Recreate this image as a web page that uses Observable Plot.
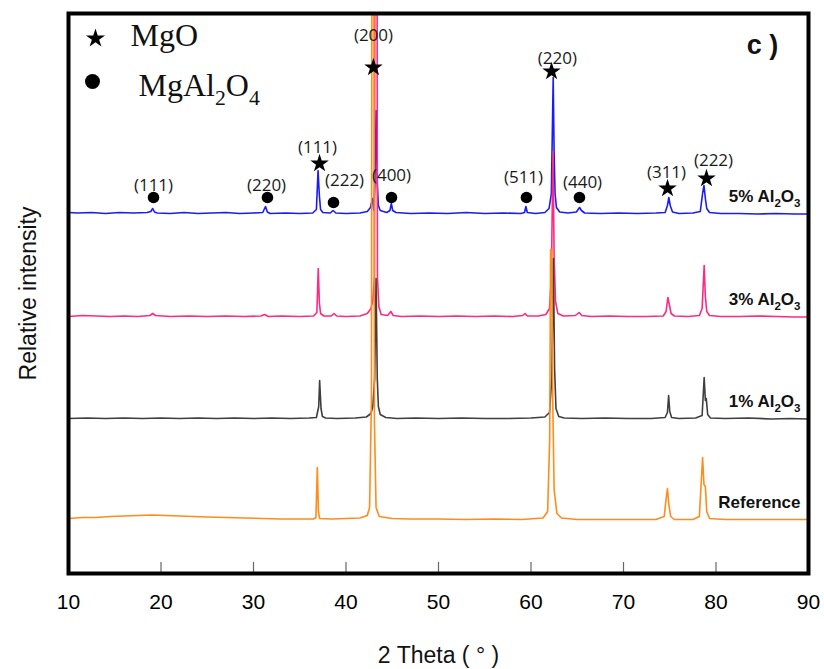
<!DOCTYPE html>
<html>
<head>
<meta charset="utf-8">
<script src="https://cdn.jsdelivr.net/npm/d3@7"></script>
<script src="https://cdn.jsdelivr.net/npm/@observablehq/plot@0.6"></script>
<style>
  html, body { margin: 0; padding: 0; background: #fff; }
</style>
</head>
<body>
<div id="chart"></div>
<script>
// ---------- data ----------
const xTicks = [10, 20, 30, 40, 50, 60, 70, 80, 90];
const innerTicks = [20, 30, 40, 50, 60, 70, 80];

const seriesNames = ["5% Al2O3", "3% Al2O3", "1% Al2O3", "Reference"];
const seriesOffsets = [360, 257, 155, 54];
const seriesColors = ["#1c1cf0", "#ff2a80", "#3f3f3f", "#ff8c1a"];

// relative intensity (a.u.) vs 2θ
const pattern5 = [[10,1],[11,0.5],[12.5,1],[14,0],[15.5,1],[17,0.5],[18.5,1],[18.9,2],[19.1,5],[19.3,1.5],[19.6,0.5],[21,0],[22.5,1],[24,0],[25.5,0.5],[27,1],[28.5,0],[30,0.5],[31,1],[31.3,7],[31.5,1.5],[31.8,0],[33.5,0.5],[35,0],[36.4,0.5],[36.8,4],[36.98,43],[37.12,18],[37.25,4],[37.5,1],[38.3,0.5],[38.6,3],[38.9,0.5],[40,0],[41.5,0.5],[42.3,2],[42.65,6],[42.85,15],[43.0,3],[43.12,30],[43.26,103],[43.38,30],[43.5,8],[43.7,3],[44.4,1],[44.75,3],[44.9,10],[45.05,3],[45.4,1],[47,0],[49,0.5],[51,0],[53,1],[55,0],[57,0.5],[58.9,0],[59.3,1],[59.45,7],[59.6,1],[60.5,0],[61.5,1],[61.95,5],[62.2,20],[62.4,136],[62.5,60],[62.6,20],[62.75,6],[63.1,1.5],[64,0.5],[64.9,1.5],[65.25,6],[65.45,3],[65.8,0.5],[67.5,0],[69.5,0.5],[71.5,0],[73.5,0.5],[74.5,1],[74.75,8],[74.9,16],[75.05,8],[75.3,1.5],[76,0],[77.5,0.5],[78.3,2],[78.55,20],[78.7,28],[78.85,15],[79.0,5],[79.3,1],[80.5,0],[82.5,0],[84.5,-0.5],[86.5,0],[88.5,-0.5],[90,-0.5]];
const pattern3 = [[10,0],[11.5,1],[13,0.5],[14.5,0],[16,0.5],[17.5,0],[18.8,1],[19.1,3],[19.4,1],[21,0],[23,0.5],[25,0],[27,0.5],[29,0],[30.8,0.5],[31.2,2],[31.6,0],[33,0.5],[35,0],[36.5,0.5],[36.85,4],[37.0,48],[37.12,14],[37.25,3],[37.6,0.5],[38.4,0.5],[38.7,3],[39,0.5],[40,0],[41.5,0.5],[42.3,3],[42.7,8],[42.9,16],[43.08,40],[43.18,900],[43.3,900],[43.4,40],[43.55,10],[43.8,2],[44.5,1],[44.85,5],[45.1,1],[46,0],[48,0.5],[50,0],[52,0.5],[54,0],[56,0.5],[58,0],[59.1,1],[59.35,3],[59.6,0.5],[60.8,0.5],[61.6,2],[62.0,8],[62.2,40],[62.38,165],[62.5,60],[62.65,15],[62.9,3],[63.5,0.5],[64.8,1],[65.2,4],[65.5,1],[66.5,0],[68.5,0.5],[70.5,0],[72.5,0],[74.3,0.5],[74.6,5],[74.8,19],[74.95,12],[75.15,3],[75.5,0.5],[77,0],[78.2,1],[78.5,8],[78.72,51],[78.85,20],[79.0,5],[79.3,1],[80.5,0],[82.5,0],[84.5,0.5],[86.5,0],[88.5,-0.5],[90,-0.5]];
const pattern1 = [[10,0],[12,0.5],[14,0],[16,0.5],[18,0],[20,0.5],[22,0],[24,0.5],[26,0],[28,0.5],[30,0],[32,0.5],[34,0],[36,0.5],[36.8,1],[37.05,12],[37.15,38],[37.3,10],[37.45,2],[37.8,0.5],[39,0],[41,0.5],[42.2,1.5],[42.7,5],[42.9,12],[43.1,40],[43.25,140],[43.38,40],[43.5,12],[43.7,4],[44.3,1],[45.5,0],[47.5,0.5],[50,0],[52.5,0.5],[55,0],[57.5,0],[60,0.5],[61.5,1.5],[62.0,6],[62.25,40],[62.42,160],[62.55,50],[62.7,10],[63.0,2],[63.6,0.5],[65.5,0],[68,0.5],[70.5,0],[73,0],[74.5,1],[74.75,6],[74.88,23],[75.0,7],[75.2,1],[76,0],[77.8,0.5],[78.5,3],[78.72,41],[78.85,18],[78.95,20],[79.1,4],[79.4,0.5],[81,0],[83.5,0.5],[86,-0.5],[88,0],[90,-0.5]];
const patternRef = [[10,1],[11.5,2],[13,2],[14.5,3],[16,3.5],[17.5,4],[19,4.5],[20.5,4],[22,3.5],[23.5,3],[25,2.5],[27,2],[29,1.5],[31,1],[33,0.5],[35,0.5],[36.5,0.5],[36.75,2],[36.9,52],[37.02,8],[37.15,1],[38.5,0.5],[40,1],[41.5,1.5],[42.3,4],[42.55,12],[42.75,120],[42.84,900],[42.97,900],[43.07,100],[43.25,12],[43.6,3],[45,1],[47,0.5],[50,0.5],[53,0],[56,0.5],[59,0],[61.3,1.5],[61.8,8],[62.02,80],[62.12,270],[62.24,270],[62.35,120],[62.5,30],[62.8,6],[63.3,1.5],[65,0],[68,0],[71,0],[73.5,0],[74.4,3],[74.6,20],[74.75,31],[74.9,15],[75.1,3],[75.5,0],[77.5,0],[78.2,3],[78.45,45],[78.55,62],[78.7,35],[78.85,33],[79.0,8],[79.3,1],[81,0],[84,0],[87,0],[90,0]];
const patterns = [pattern5, pattern3, pattern1, patternRef];

// MgO reflections (stars)
const mgoHkl = ["(111)", "(200)", "(220)", "(311)", "(222)"];
const mgoTheta = [37.14, 42.97, 62.22, 74.76, 78.97];
const mgoMarkY = [410, 506, 502, 385, 395];
const mgoLabelTheta = [36.92, 42.97, 62.86, 74.65, 79.73];
const mgoLabelY = [426, 538, 515, 401, 413];

// MgAl2O4 reflections (circles)
const spHkl = ["(111)", "(220)", "(222)", "(400)", "(511)", "(440)"];
const spTheta = [19.19, 31.51, 38.65, 44.92, 59.51, 65.24];
const spMarkY = [376, 376, 371, 376, 376, 376];
const spLabelTheta = [19.19, 31.41, 39.84, 44.92, 59.19, 65.57];
const spLabelY = [388, 388, 393, 398, 396, 391];

const legendLabels = ["MgO", "MgAl2O4"];
const panelTag = "c )";
const xLabel = "2 Theta ( \u00b0 )";
const yLabel = "Relative intensity";

// ---------- build ----------
const lineMarks = [];
// draw order: blue, pink, gray, orange (orange on top)
patterns.forEach((pat, i) => {
  const rows = pat.map(([x, v]) => ({x, y: v + seriesOffsets[i]}));
  lineMarks.push(Plot.line(rows, {x: "x", y: "y", stroke: seriesColors[i], strokeWidth: 1.6, clip: true}));
});

const seriesLabelRows = seriesNames.map((s, i) => ({s, y: seriesOffsets[i]}));
const mgoRows = mgoHkl.map((h, i) => ({h, x: mgoTheta[i], y: mgoMarkY[i], lx: mgoLabelTheta[i], ly: mgoLabelY[i]}));
const spRows = spHkl.map((h, i) => ({h, x: spTheta[i], y: spMarkY[i], lx: spLabelTheta[i], ly: spLabelY[i]}));

const labelFont = "'Open Sans', 'Noto Sans', sans-serif";
const serifFont = "'Liberation Serif', 'Times New Roman', serif";

const chart = Plot.plot({
  width: 824,
  height: 669,
  marginLeft: 68,
  marginRight: 16,
  marginTop: 13,
  marginBottom: 96,
  x: {domain: [10, 90]},
  y: {domain: [0, 560], axis: null},
  style: {fontFamily: "'Liberation Sans', Arial, sans-serif", background: "white", color: "black"},
  marks: [
    ...lineMarks,
    Plot.ruleX(innerTicks, {y1: 0, y2: 11, stroke: "#666", strokeWidth: 1.2}),
    Plot.axisX({ticks: xTicks, tickSize: 0, tickPadding: 21, fontSize: 21, label: null}),
    Plot.frame({stroke: "black", strokeWidth: 4}),
    // peak markers
    Plot.dot(mgoRows, {x: "x", y: "y", symbol: "star", r: 5.8, fill: "black", stroke: "none"}),
    Plot.dot(spRows, {x: "x", y: "y", symbol: "circle", r: 5.8, fill: "black", stroke: "none"}),
    Plot.text(mgoRows, {x: "lx", y: "ly", text: "h", fontSize: 17, fontFamily: labelFont, fill: "#1a1a1a"}),
    Plot.text(spRows, {x: "lx", y: "ly", text: "h", fontSize: 17, fontFamily: labelFont, fill: "#1a1a1a"}),
    // series labels
    Plot.text(seriesLabelRows, {x: () => 90, y: "y", text: "s", textAnchor: "end", dx: -8, dy: -17, fontSize: 17, fontWeight: "bold", fill: "#111"}),
    // legend
    Plot.dot([legendLabels[0]], {frameAnchor: "top-left", dx: 27, dy: 25, symbol: "star", r: 6, fill: "black", stroke: "none"}),
    Plot.dot([legendLabels[1]], {frameAnchor: "top-left", dx: 24, dy: 68, symbol: "circle", r: 7.5, fill: "black", stroke: "none"}),
    Plot.text([legendLabels[0]], {frameAnchor: "top-left", dx: 62, dy: 22, textAnchor: "start", lineAnchor: "middle", fontSize: 32, fontFamily: serifFont, fill: "#111"}),
    Plot.text([legendLabels[1]], {frameAnchor: "top-left", dx: 70, dy: 72, textAnchor: "start", lineAnchor: "middle", fontSize: 32, fontFamily: serifFont, fill: "#111"}),
    // panel tag
    Plot.text([panelTag], {frameAnchor: "top-right", dx: -46, dy: 32, textAnchor: "middle", lineAnchor: "middle", fontSize: 27, fontWeight: "bold", fill: "#111"}),
    // axis titles
    Plot.text([xLabel], {frameAnchor: "bottom", dy: 82, textAnchor: "middle", lineAnchor: "middle", fontSize: 23, fill: "#111"}),
    Plot.text([yLabel], {frameAnchor: "left", dx: -40, rotate: -90, textAnchor: "middle", lineAnchor: "middle", fontSize: 23, fill: "#111"})
  ]
});

document.getElementById("chart").appendChild(chart);

// chemical subscripts (Al2O3, MgAl2O4)
const subTargets = new Set([...seriesNames, legendLabels[1]]);
d3.select(chart).selectAll("text").each(function () {
  const t = this.textContent;
  if (!subTargets.has(t)) return;
  const fs = parseFloat(getComputedStyle(this).fontSize) || 16;
  const shift = fs * 0.28;
  const parts = [];
  for (let i = 0; i < t.length; i++) {
    const c = t[i];
    const prevSub = parts.length && parts[parts.length - 1].sub;
    const sub = /\d/.test(c) && i > 0 && (/[A-Za-z]/.test(t[i - 1]) || (prevSub && /\d/.test(t[i - 1])));
    if (parts.length && parts[parts.length - 1].sub === sub) parts[parts.length - 1].s += c;
    else parts.push({s: c, sub});
  }
  this.textContent = "";
  let shifted = false;
  for (const p of parts) {
    const ts = d3.select(this).append("tspan").text(p.s);
    if (p.sub) { ts.attr("font-size", fs * 0.68).attr("dy", shift); shifted = true; }
    else if (shifted) { ts.attr("dy", -shift); shifted = false; }
  }
});
</script>
</body>
</html>
